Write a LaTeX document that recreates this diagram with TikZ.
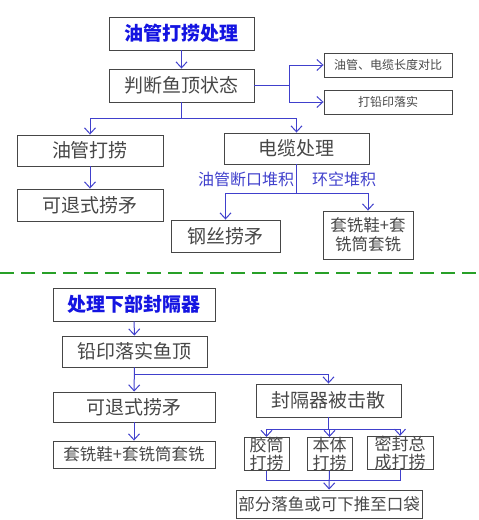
\documentclass[tikz,border=0pt]{standalone}
\usepackage{fontspec}
\setmainfont{Noto Sans CJK SC}
\usetikzlibrary{arrows.meta}
\definecolor{flowblue}{RGB}{64,64,204}
\definecolor{titleblue}{RGB}{20,20,225}
\definecolor{boxgray}{RGB}{70,70,70}
\definecolor{sepgreen}{RGB}{40,160,40}

\begin{document}
\begin{tikzpicture}[x=1pt, y=-1pt,
  box/.style={draw=boxgray, line width=0.9pt, text=black!72, inner sep=0pt, font=\fontsize{19}{23}\selectfont},
  titlebox/.style={box, text=titleblue, font=\bfseries\fontsize{19}{23}\selectfont},
  smallbox/.style={box, font=\fontsize{12}{14}\selectfont},
  midbox/.style={box, align=center, font=\fontsize{16.5}{19}\selectfont},
  toolbox/.style={box, align=center, font=\fontsize{17}{17.5}\selectfont},
  flow/.style={draw=flowblue, line width=1pt},
  arr/.style={flow, -{Straight Barb[length=6pt,width=11pt]}},
  branchlabel/.style={text=flowblue, font=\fontsize{16}{19}\selectfont}]

\useasboundingbox (0,0) rectangle (479,520);

% upper part: tubing fishing
\node[titlebox, minimum width=145, minimum height=33] (t1) at (181.5,33.5) {油管打捞处理};
\node[box, minimum width=145, minimum height=33] (judge) at (181.5,85.5) {判断鱼顶状态};
\node[smallbox, minimum width=128, minimum height=24] (cmp) at (388,65) {油管、电缆长度对比};
\node[smallbox, minimum width=128, minimum height=24] (lead1) at (388,102) {打铅印落实};
\node[box, minimum width=146, minimum height=31] (tubing) at (90,150.5) {油管打捞};
\node[box, minimum width=146, minimum height=32] (spear1) at (90,205) {可退式捞矛};
\node[box, minimum width=145, minimum height=31] (cable) at (296.5,148.5) {电缆处理};
\node[box, minimum width=109, minimum height=32] (wire) at (225.5,236) {钢丝捞矛};
\node[midbox, minimum width=90, minimum height=48] (mill1) at (368,235) {套铣鞋+套\\铣筒套铣};
\node[branchlabel] (l1) at (246,179) {油管断口堆积};
\node[branchlabel] (l2) at (344,179) {环空堆积};

\coordinate (j1) at (181.5,118);
\coordinate (j2) at (289,85.5);
\coordinate (c1) at (296.5,193);

\draw[arr] (t1) -- (judge);
\draw[flow] (judge) -- (j1);
\draw[arr] (j1) -| (tubing);
\draw[arr] (j1) -| (cable);
\draw[flow] (judge) -- (j2);
\draw[arr] (j2) |- (cmp);
\draw[arr] (j2) |- (lead1);
\draw[arr] (tubing) -- (spear1);
\draw[flow] (cable) -- (c1);
\draw[arr] (c1) -| (wire);
\draw[arr] (c1) -| (mill1);

% separator
\draw[sepgreen, line width=1.5pt, dash pattern=on 14pt off 7pt] (0,273) -- (479,273);

% lower part: packer
\node[titlebox, minimum width=162, minimum height=33] (t2) at (134,304.5) {处理下部封隔器};
\node[box, minimum width=145, minimum height=31] (lead2) at (134.5,351.5) {铅印落实鱼顶};
\node[box, minimum width=162, minimum height=30] (spear2) at (134,407) {可退式捞矛};
\node[midbox, minimum width=162, minimum height=27] (mill2) at (134,454.5) {套铣鞋+套铣筒套铣};
\node[box, minimum width=145, minimum height=33] (scatter) at (328.5,400.5) {封隔器被击散};
\node[toolbox, minimum width=45, minimum height=30] (rubber) at (266.5,454) {胶筒\\打捞};
\node[toolbox, minimum width=45, minimum height=30] (body) at (329.5,454) {本体\\打捞};
\node[toolbox, minimum width=66, minimum height=30] (sealasm) at (400,453) {密封总\\成打捞};
\node[midbox, minimum width=186, minimum height=28] (pocket) at (329,504) {部分落鱼或可下推至口袋};

\coordinate (p1) at (134,374);
\coordinate (s1) at (328.5,429);
\coordinate (m1) at (329.5,480);

\draw[arr] (t2) -- (lead2);
\draw[arr] (lead2) -- (spear2);
\draw[arr] (p1) -| (scatter);
\draw[arr] (spear2) -- (mill2);
\draw[flow] (scatter) -- (s1);
\draw[arr] (s1) -| (rubber);
\draw[arr] (s1) -| (body);
\draw[arr] (s1) -| (sealasm);
\draw[flow] (rubber) |- (m1);
\draw[flow] (sealasm) |- (m1);
\draw[arr] (body) -- (pocket);
\end{tikzpicture}
\end{document}
